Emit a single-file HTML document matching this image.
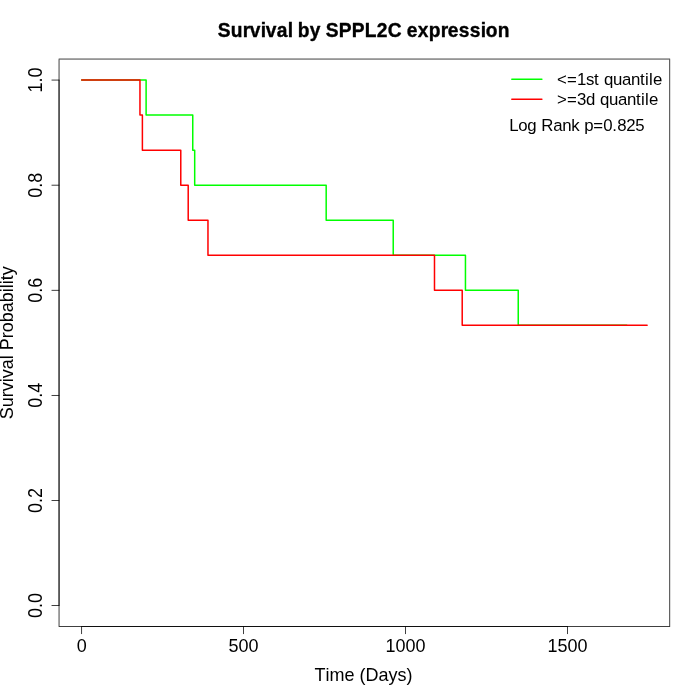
<!DOCTYPE html>
<html><head><meta charset="utf-8"><title>Survival by SPPL2C expression</title>
<style>
html,body{margin:0;padding:0;background:#fff;}
svg{display:block;will-change:transform;font-family:"Liberation Sans",sans-serif;}
text{fill:#000;white-space:pre;}
</style></head><body>
<svg width="700" height="700" viewBox="0 0 700 700">
<rect x="0" y="0" width="700" height="700" fill="#fff"/>
<path d="M81.66 80.06 H146.11 V115.09 H192.75 V150.13 H194.69 V185.16 H326.18 V220.19 H393.23 V255.23 H465.45 V290.26 H518.24 V325.29 H626.74" fill="none" stroke="#00ff00" stroke-width="1.5" stroke-linejoin="round" stroke-linecap="round"/>
<path d="M81.66 80.06 H139.96 V115.09 H142.39 V150.13 H180.77 V185.16 H188.21 V220.19 H207.97 V255.23 H434.49 V290.26 H462.21 V325.29 H647.14" fill="none" stroke="#ff0000" stroke-width="1.5" stroke-linejoin="round" stroke-linecap="round"/>
<g fill="#000" stroke="none">
<rect x="81.285" y="626.185" width="486.56" height="0.75"/>
<rect x="81.285" y="626.26" width="0.75" height="7.8"/>
<rect x="243.225" y="626.26" width="0.75" height="7.8"/>
<rect x="405.155" y="626.26" width="0.75" height="7.8"/>
<rect x="567.095" y="626.26" width="0.75" height="7.8"/>
<rect x="58.665" y="79.76" width="0.75" height="526.1"/>
<rect x="51.54" y="79.685" width="7.8" height="0.75"/>
<rect x="51.54" y="184.785" width="7.8" height="0.75"/>
<rect x="51.54" y="289.885" width="7.8" height="0.75"/>
<rect x="51.54" y="394.985" width="7.8" height="0.75"/>
<rect x="51.54" y="500.085" width="7.8" height="0.75"/>
<rect x="51.54" y="605.185" width="7.8" height="0.75"/>
<rect x="58.665" y="58.665" width="611.47" height="0.75"/>
<rect x="58.665" y="626.185" width="611.47" height="0.75"/>
<rect x="58.665" y="59.415" width="0.75" height="566.77"/>
<rect x="669.385" y="59.415" width="0.75" height="566.77"/>
</g>
<text font-size="18" transform="translate(0 652.1) scale(1 1.04)" x="76.66" y="0">0</text>
<text font-size="18" transform="translate(0 652.1) scale(1 1.04)" x="228.6 238.6 248.6" y="0">500</text>
<text font-size="18" transform="translate(0 652.1) scale(1 1.04)" x="385.53 395.53 405.53 415.53" y="0">1000</text>
<text font-size="18" transform="translate(0 652.1) scale(1 1.04)" x="547.47 557.47 567.47 577.47" y="0">1500</text>
<text font-size="18" transform="translate(41.6 80.06) rotate(-90) scale(1 1.08)" x="-12.5 -2.5 2.5" y="0">1.0</text>
<text font-size="18" transform="translate(41.6 185.16) rotate(-90) scale(1 1.08)" x="-12.5 -2.5 2.5" y="0">0.8</text>
<text font-size="18" transform="translate(41.6 290.26) rotate(-90) scale(1 1.08)" x="-12.5 -2.5 2.5" y="0">0.6</text>
<text font-size="18" transform="translate(41.6 395.36) rotate(-90) scale(1 1.08)" x="-12.5 -2.5 2.5" y="0">0.4</text>
<text font-size="18" transform="translate(41.6 500.46) rotate(-90) scale(1 1.08)" x="-12.5 -2.5 2.5" y="0">0.2</text>
<text font-size="18" transform="translate(41.6 605.56) rotate(-90) scale(1 1.08)" x="-12.5 -2.5 2.5" y="0">0.0</text>
<text font-size="18" transform="translate(0 681.1) scale(1 1.03)" x="314.6 325.6 329.6 344.6 354.6 359.6 365.6 378.6 388.6 397.6 406.6" y="0">Time (Days)</text>
<text font-size="18" transform="translate(12.9 342.8) rotate(-90) scale(1 1.06)" x="-76.5 -64.5 -54.5 -48.5 -39.5 -35.5 -26.5 -16.5 -12.5 -7.5 4.5 10.5 20.5 30.5 40.5 50.5 54.5 58.5 62.5 67.5" y="0">Survival Probability</text>
<text font-size="19.2" font-weight="bold" stroke="#000" stroke-width="0.35" stroke-linejoin="round" transform="translate(0 36.8) scale(1 1.04)" x="217.7 230.7 242.7 249.7 260.7 265.7 276.7 287.7 292.7 297.7 309.7 320.7 325.7 338.7 351.7 364.7 376.7 387.7 401.7 406.7 417.7 428.7 440.7 447.7 458.7 469.7 480.7 485.7 497.7" y="0">Survival by SPPL2C expression</text>
<path d="M511.8 79.19 H541.9" stroke="#00ff00" stroke-width="1.5" stroke-linecap="round" fill="none"/>
<path d="M511.8 99.35 H541.9" stroke="#ff0000" stroke-width="1.5" stroke-linecap="round" fill="none"/>
<text font-size="16.8" x="557 567 577 586 594 599 604 613 622 631 640 645 649 653" y="85">&lt;=1st quantile</text>
<text font-size="16.8" x="557 567 577 586 595 600 609 618 627 636 641 645 649" y="105">&gt;=3d quantile</text>
<text font-size="16.8" x="509.2 518.2 527.2 536.2 541.2 553.2 562.2 571.2 579.2 584.2 593.2 603.2 612.2 617.2 626.2 635.2" y="131">Log Rank p=0.825</text>
</svg>
</body></html>
